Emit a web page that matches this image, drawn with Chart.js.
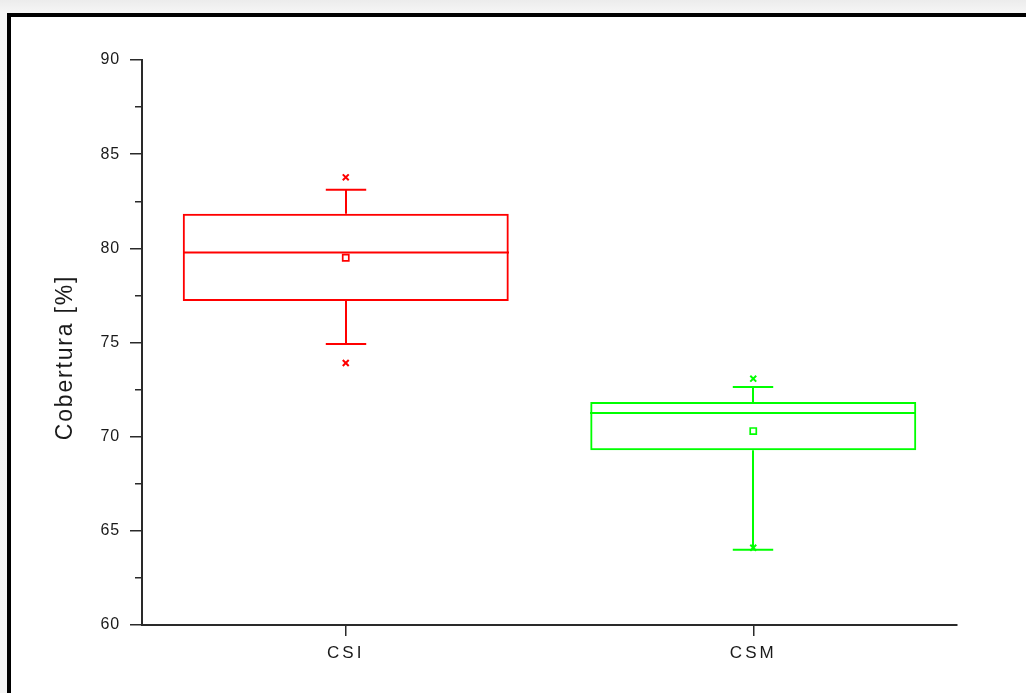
<!DOCTYPE html>
<html>
<head>
<meta charset="utf-8">
<script src="https://cdn.jsdelivr.net/npm/chart.js@4.4.1/dist/chart.umd.min.js"></script>
<style>
  html, body { margin: 0; padding: 0; }
  body {
    width: 1026px; height: 693px; overflow: hidden; position: relative;
    background: linear-gradient(to bottom, #ececec 0px, #f6f6f6 13px, #f4f4f4 100%);
  }
  #frame {
    position: absolute; left: 7px; top: 13px; width: 1040px; height: 700px;
    border-left: 4px solid #000; border-top: 4px solid #000;
    background: #fff;
  }
  #wrap { position: absolute; left: 0; top: 0; width: 1015px; height: 676px; }
</style>
</head>
<body>
<div id="frame"><div id="wrap"><canvas id="c"></canvas></div></div>
<script>
// Box-plot summary per group (percent cover)
const categories = ['CSI', 'CSM'];
const q1 = [77.2, 69.28];
const q3 = [81.83, 71.84];
const medians = [79.78, 71.26];
const means = [79.5, 70.3];
const whiskerLow = [74.92, 64.0];
const whiskerHigh = [83.11, 72.64];
const outlierLow = [73.91, 64.1];
const outlierHigh = [83.77, 73.08];
const groupColors = ['#ff0000', '#00ff00'];
const yMin = 60, yMax = 90, yStep = 2.5;
const yTitle = 'Cobertura [%]';

const axisColor = '#2a2a2a';
const textColor = '#1a1a1a';
const fontFamily = '"Liberation Sans", Arial, sans-serif';

// Per-axis letter spacing for tick labels
const labelSpacing = { x: '3px', y: '0.8px' };

const boxPlotPlugin = {
  id: 'boxPlot',
  beforeDraw(chart) {
    for (const id of ['x', 'y']) {
      const s = chart.scales[id];
      if (s && !s._spacingPatched) {
        const orig = s.drawLabels.bind(s);
        s.drawLabels = function (area) {
          const c = this.ctx;
          c.save();
          c.letterSpacing = labelSpacing[id];
          orig(area);
          c.restore();
        };
        s._spacingPatched = true;
      }
    }
  },
  afterDatasetsDraw(chart) {
    const ctx = chart.ctx;
    const xs = chart.scales.x, ys = chart.scales.y;
    const boxes = chart.getDatasetMeta(0).data;
    ctx.save();
    ctx.lineWidth = 2;
    ctx.lineCap = 'butt';
    categories.forEach((cat, i) => {
      const cx = Math.round(xs.getPixelForValue(i));
      const half = boxes[i].width / 2;
      const capHalf = boxes[i].width * 0.062;
      ctx.strokeStyle = groupColors[i];
      ctx.beginPath();
      // median
      const my = ys.getPixelForValue(medians[i]);
      ctx.moveTo(cx - half, my); ctx.lineTo(cx + half, my);
      // upper whisker + cap
      const yq3 = ys.getPixelForValue(q3[i]);
      const yHi = ys.getPixelForValue(whiskerHigh[i]);
      ctx.moveTo(cx, yq3); ctx.lineTo(cx, yHi);
      ctx.moveTo(cx - capHalf, yHi); ctx.lineTo(cx + capHalf, yHi);
      // lower whisker + cap
      const yq1 = ys.getPixelForValue(q1[i]);
      const yLo = ys.getPixelForValue(whiskerLow[i]);
      ctx.moveTo(cx, yq1); ctx.lineTo(cx, yLo);
      ctx.moveTo(cx - capHalf, yLo); ctx.lineTo(cx + capHalf, yLo);
      ctx.stroke();
    });
    ctx.restore();
  },
  afterDraw(chart) {
    const ctx = chart.ctx;
    const a = chart.chartArea;
    ctx.save();
    ctx.translate(a.left - 76, (a.top + a.bottom) / 2 + 15);
    ctx.rotate(-Math.PI / 2);
    ctx.font = '23px ' + fontFamily;
    ctx.letterSpacing = '1.8px';
    ctx.fillStyle = textColor;
    ctx.textAlign = 'center';
    ctx.textBaseline = 'middle';
    ctx.fillText(yTitle, 0, 0);
    ctx.restore();
  }
};

new Chart(document.getElementById('c'), {
  type: 'bar',
  data: {
    labels: categories,
    datasets: [
      {
        type: 'bar',
        data: categories.map((c, i) => [q1[i], q3[i]]),
        backgroundColor: 'rgba(255,255,255,0)',
        borderColor: groupColors,
        borderWidth: 2,
        borderSkipped: false,
        barPercentage: 0.8,
        categoryPercentage: 1,
        grouped: false,
        order: 3
      },
      {
        type: 'line',
        data: means,
        showLine: false,
        pointStyle: 'rect',
        pointRadius: 4.3,
        pointBorderWidth: 1.7,
        pointBorderColor: groupColors,
        pointBackgroundColor: '#ffffff',
        order: 1
      },
      {
        type: 'line',
        data: outlierHigh,
        showLine: false,
        pointStyle: 'crossRot',
        pointRadius: 4.2,
        pointBorderWidth: 2,
        pointBorderColor: groupColors,
        order: 1
      },
      {
        type: 'line',
        data: outlierLow,
        showLine: false,
        pointStyle: 'crossRot',
        pointRadius: 4.2,
        pointBorderWidth: 2,
        pointBorderColor: groupColors,
        order: 1
      }
    ]
  },
  options: {
    responsive: true,
    maintainAspectRatio: false,
    animation: false,
    events: [],
    layout: { padding: { left: 0, right: 69, top: 43, bottom: 0 } },
    plugins: { legend: { display: false }, tooltip: { enabled: false } },
    scales: {
      x: {
        type: 'category',
        offset: true,
        afterFit(s) { s.height = 68; },
        grid: {
          display: true, drawOnChartArea: false, drawTicks: true, offset: false,
          tickLength: 11, color: axisColor, lineWidth: 1.5
        },
        border: { display: true, color: axisColor, width: 2 },
        ticks: { color: textColor, padding: 7, font: { family: fontFamily, size: 17 } }
      },
      y: {
        min: yMin, max: yMax,
        afterFit(s) { s.width = 131; },
        grid: {
          display: true, drawOnChartArea: false, drawTicks: true,
          tickLength: 12, color: axisColor, lineWidth: 1.5,
          tickBorderDash: (c) => (c.tick && c.tick.value % 5 !== 0) ? [0, 5, 8, 20] : []
        },
        border: { display: true, color: axisColor, width: 2 },
        ticks: {
          stepSize: yStep,
          color: textColor, padding: 10,
          font: { family: fontFamily, size: 16 },
          callback: (v) => (v % 5 === 0 ? String(v) : '')
        }
      }
    }
  },
  plugins: [boxPlotPlugin]
});
</script>
</body>
</html>
